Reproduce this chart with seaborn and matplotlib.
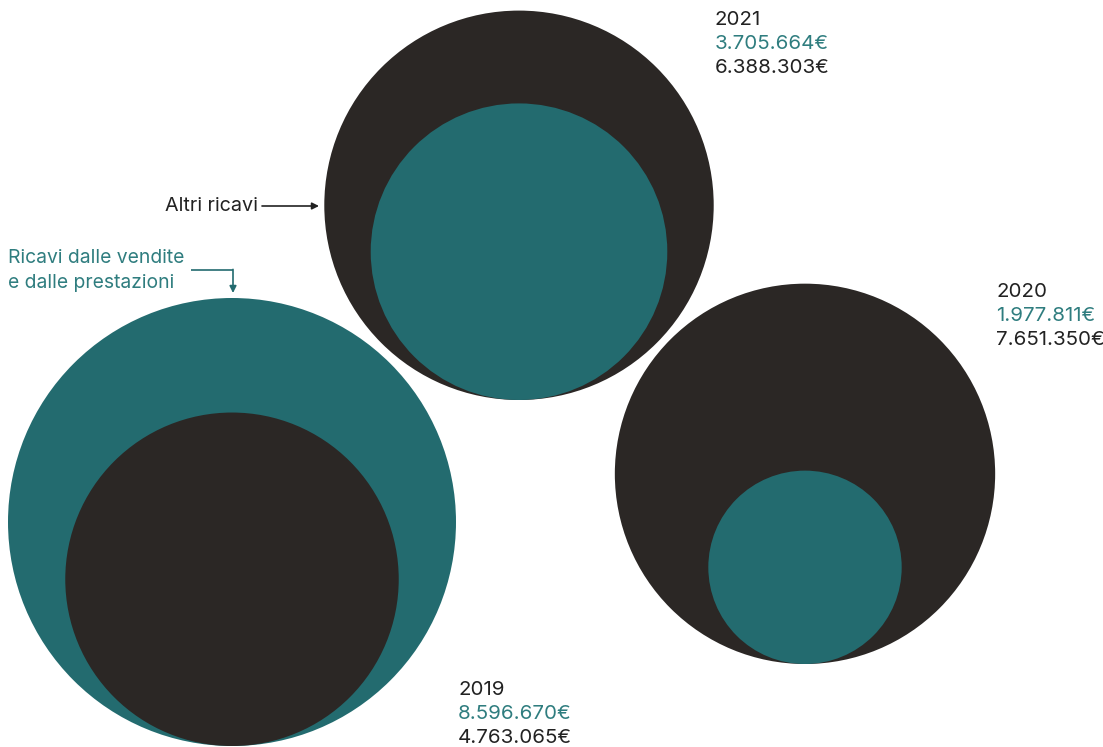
import matplotlib

matplotlib.use("Agg")
import matplotlib.pyplot as plt
import numpy as np
import pandas as pd
import seaborn as sns

# ----------------------------------------------------------------------
# Data
# ----------------------------------------------------------------------
years = ["2019", "2020", "2021"]
vendite = [8596670, 1977811, 3705664]   # Ricavi dalle vendite e dalle prestazioni
altri = [4763065, 7651350, 6388303]     # Altri ricavi

# layout (pixel space, y grows downward)
CENTERS = {"2019": (232, 746), "2020": (805, 664), "2021": (519, 400)}  # (x centre, bottom)
LABEL_POS = {"2019": (458, 690), "2020": (996, 292), "2021": (715, 20)}
BASE_R = 224  # radius of the largest outer circle, px

DARK = "#2b2725"
TEAL = "#236b6f"
TEAL_TEXT = "#2f7d7f"
DPI = 100


def fmt(v):
    return f"{v:,}".replace(",", ".") + "€"


totals = [a + b for a, b in zip(vendite, altri)]
k = BASE_R / np.sqrt(max(totals))

rows = []
for year, v, a, t in zip(years, vendite, altri, totals):
    r_out = k * np.sqrt(t)
    big, small = (v, a) if v >= a else (a, v)
    r_in = r_out * np.sqrt(small / big)
    cx, bottom = CENTERS[year]
    for val, r in [(big, r_out), (small, r_in)]:
        rows.append({
            "year": year,
            "kind": "vendite" if val == v else "altri",
            "value": val,
            "x": cx,
            "y": bottom - r,
            "s": (2 * r * 72 / DPI) ** 2,
        })
df = pd.DataFrame(rows)

sns.set_theme(style="white")
plt.rcParams["font.family"] = ["Inter", "DejaVu Sans"]

fig = plt.figure(figsize=(11.03, 7.47), dpi=DPI)
ax = fig.add_axes([0, 0, 1, 1])

sns.scatterplot(
    data=df, x="x", y="y", hue="kind", size="value",
    palette={"vendite": TEAL, "altri": DARK},
    sizes=dict(zip(df["value"], df["s"])),
    linewidth=0, edgecolor="none", alpha=1, legend=False, ax=ax,
)
ax.set_xlim(0, 1103)
ax.set_ylim(747, 0)
ax.set_axis_off()

# year labels
for year, v, a in zip(years, vendite, altri):
    x, y = LABEL_POS[year]
    for i, (txt, col) in enumerate([(year, "#222222"), (fmt(v), TEAL_TEXT), (fmt(a), "#222222")]):
        ax.text(x, y + i * 24, txt, color=col, fontsize=14.8, ha="left", va="center")

# annotations
ax.text(258, 206, "Altri ricavi", color="#222222", fontsize=14.2, ha="right", va="center")
ax.annotate("", xy=(319, 206), xytext=(262, 206),
            arrowprops=dict(arrowstyle="-|>", color="#222222", lw=1.2,
                            mutation_scale=10, shrinkA=0, shrinkB=0))

ax.text(8, 258, "Ricavi dalle vendite", color=TEAL_TEXT, fontsize=13.9, ha="left", va="center")
ax.text(8, 283, "e dalle prestazioni", color=TEAL_TEXT, fontsize=13.9, ha="left", va="center")
ax.plot([191, 233], [270, 270], color=TEAL, lw=1.2, solid_capstyle="butt")
ax.annotate("", xy=(233, 293), xytext=(233, 269.4),
            arrowprops=dict(arrowstyle="-|>", color=TEAL, lw=1.2,
                            mutation_scale=10, shrinkA=0, shrinkB=0))

fig.savefig("out.png", dpi=DPI, facecolor="white")
